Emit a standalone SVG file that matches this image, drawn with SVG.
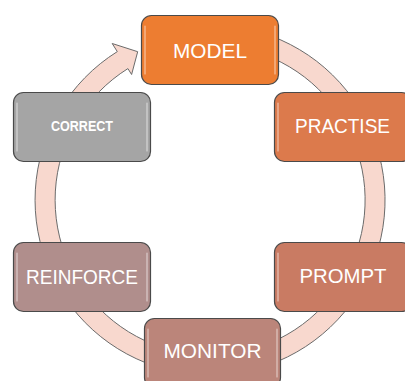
<svg xmlns="http://www.w3.org/2000/svg" width="405" height="381" viewBox="0 0 405 381">
<style>
.box{stroke:#4a4a4a;stroke-width:1.2}
.hl{fill:none;stroke:#ffffff;stroke-opacity:0.55;stroke-width:1.2;stroke-linecap:round}
.lbl{font-family:"Liberation Sans",Arial,sans-serif;font-size:21px;fill:#ffffff;text-anchor:middle}
.sm{font-size:14px;font-weight:bold}
.ring{fill:#F8D8CE;stroke:#6b6b6b;stroke-width:1}
</style>
<rect width="405" height="381" fill="#ffffff"/>
<g id="connectors">
<path class="ring" d="M210,25 A175,175 0 1 1 117.3,51.6 L112.2,43.5 L137.7,51.7 L131.6,74.5 L127.9,68.6 A155,155 0 1 0 210,45 Z"/>
</g>
<g id="model">
<rect class="box" x="141.5" y="15.5" width="137" height="69" rx="10" fill="#ED7D31"/>
<path class="hl" d="M145,26 V74 M275,26 V74"/>
<text class="lbl" x="210" y="58" textLength="74" lengthAdjust="spacingAndGlyphs">MODEL</text>
</g>
<g id="practise">
<rect class="box" x="274.5" y="92.5" width="137" height="69" rx="10" fill="#DC7A4C"/>
<path class="hl" d="M278,103 V151"/>
<text class="lbl" x="342.5" y="133" textLength="95" lengthAdjust="spacingAndGlyphs">PRACTISE</text>
</g>
<g id="prompt">
<rect class="box" x="274.5" y="242.5" width="137" height="69" rx="10" fill="#C97B63"/>
<path class="hl" d="M278,253 V301"/>
<text class="lbl" x="343" y="283" textLength="87" lengthAdjust="spacingAndGlyphs">PROMPT</text>
</g>
<g id="monitor">
<rect class="box" x="144.5" y="318.5" width="136" height="69" rx="10" fill="#BB857A"/>
<path class="hl" d="M148,329 V377 M277,329 V377"/>
<text class="lbl" x="212.5" y="358" textLength="98" lengthAdjust="spacingAndGlyphs">MONITOR</text>
</g>
<g id="reinforce">
<rect class="box" x="13.5" y="242.5" width="137" height="69" rx="10" fill="#B08E8C"/>
<path class="hl" d="M17,253 V301 M147,253 V301"/>
<text class="lbl" x="82" y="284" textLength="112" lengthAdjust="spacingAndGlyphs">REINFORCE</text>
</g>
<g id="correct">
<rect class="box" x="13.5" y="92.5" width="137" height="69" rx="10" fill="#A5A5A5"/>
<path class="hl" d="M17,103 V151 M147,103 V151"/>
<text class="lbl sm" x="82" y="131" textLength="62" lengthAdjust="spacingAndGlyphs">CORRECT</text>
</g>
</svg>
